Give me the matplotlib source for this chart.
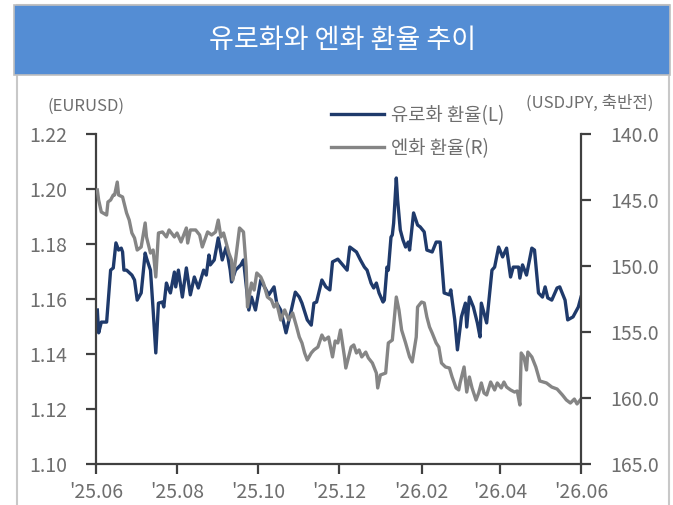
import matplotlib
matplotlib.use('Agg')
import matplotlib.pyplot as plt
from matplotlib.patches import Rectangle
from matplotlib.lines import Line2D
import pandas as pd

plt.rcParams['font.family'] = ['Noto Sans CJK KR', 'DejaVu Sans']

title = '유로화와 엔화 환율 추이'
eur_label = '유로화 환율(L)'
jpy_label = '엔화 환율(R)'
left_unit = '(EURUSD)'
right_unit = '(USDJPY, 축반전)'

eur_dates = [
    '2025-06-02', '2025-06-03', '2025-06-05', '2025-06-09', '2025-06-12', '2025-06-14', '2025-06-16',
    '2025-06-18', '2025-06-20', '2025-06-21', '2025-06-22', '2025-06-24', '2025-06-28', '2025-06-30',
    '2025-07-02', '2025-07-05', '2025-07-08', '2025-07-09', '2025-07-12', '2025-07-14', '2025-07-16',
    '2025-07-18', '2025-07-21', '2025-07-22', '2025-07-24', '2025-07-25', '2025-07-27', '2025-07-30',
    '2025-07-31', '2025-08-02', '2025-08-05', '2025-08-08', '2025-08-11', '2025-08-14', '2025-08-17',
    '2025-08-21', '2025-08-23', '2025-08-25', '2025-08-26', '2025-08-29', '2025-09-01', '2025-09-04',
    '2025-09-07', '2025-09-10', '2025-09-11', '2025-09-14', '2025-09-18', '2025-09-20', '2025-09-24',
    '2025-09-26', '2025-09-29', '2025-10-03', '2025-10-07', '2025-10-09', '2025-10-13', '2025-10-15',
    '2025-10-18', '2025-10-22', '2025-10-26', '2025-10-29', '2025-11-01', '2025-11-03', '2025-11-07',
    '2025-11-10', '2025-11-12', '2025-11-14', '2025-11-18', '2025-11-21', '2025-11-24', '2025-11-26',
    '2025-11-30', '2025-12-07', '2025-12-09', '2025-12-12', '2025-12-14', '2025-12-17', '2025-12-20',
    '2025-12-22', '2025-12-25', '2025-12-27', '2025-12-29', '2025-12-31', '2026-01-03', '2026-01-04',
    '2026-01-06', '2026-01-07', '2026-01-09', '2026-01-10', '2026-01-11', '2026-01-13', '2026-01-14',
    '2026-01-16', '2026-01-18', '2026-01-20', '2026-01-22', '2026-01-23', '2026-01-26', '2026-01-29',
    '2026-01-31', '2026-02-03', '2026-02-05', '2026-02-09', '2026-02-12', '2026-02-15', '2026-02-18',
    '2026-02-22', '2026-02-23', '2026-02-26', '2026-02-28', '2026-03-03', '2026-03-06', '2026-03-07',
    '2026-03-09', '2026-03-12', '2026-03-15', '2026-03-17', '2026-03-18', '2026-03-22', '2026-03-26',
    '2026-03-28', '2026-03-31', '2026-04-03', '2026-04-06', '2026-04-09', '2026-04-11', '2026-04-15',
    '2026-04-16', '2026-04-18', '2026-04-21', '2026-04-25', '2026-04-27', '2026-04-30', '2026-05-03',
    '2026-05-05', '2026-05-07', '2026-05-10', '2026-05-14', '2026-05-16', '2026-05-20', '2026-05-22',
    '2026-05-26', '2026-05-30', '2026-06-01',
]
eur_values = [
    1.1560, 1.1477, 1.1516, 1.1516, 1.1705, 1.1713, 1.1804,
    1.1778, 1.1785, 1.1771, 1.1705, 1.1705, 1.1687, 1.1669,
    1.1596, 1.1622, 1.1767, 1.1749, 1.1705, 1.1560, 1.1404,
    1.1585, 1.1589, 1.1571, 1.1658, 1.1644, 1.1622, 1.1698,
    1.1644, 1.1705, 1.1607, 1.1713, 1.1615, 1.1680, 1.1640,
    1.1705, 1.1687, 1.1760, 1.1724, 1.1742, 1.1822, 1.1742,
    1.1789, 1.1705, 1.1662, 1.1705, 1.1724, 1.1742, 1.1560,
    1.1607, 1.1560, 1.1669, 1.1633, 1.1615, 1.1644, 1.1585,
    1.1560, 1.1477, 1.1560, 1.1625, 1.1607, 1.1585, 1.1524,
    1.1505, 1.1585, 1.1589, 1.1669, 1.1644, 1.1633, 1.1735,
    1.1745, 1.1705, 1.1789, 1.1778, 1.1771, 1.1742, 1.1716,
    1.1705, 1.1658, 1.1640, 1.1658, 1.1622, 1.1589, 1.1596,
    1.1716, 1.1705, 1.1825, 1.1833, 1.1876, 1.2040, 1.1960,
    1.1851, 1.1815, 1.1789, 1.1807, 1.1778, 1.1913, 1.1869,
    1.1862, 1.1844, 1.1778, 1.1771, 1.1807, 1.1807, 1.1622,
    1.1615, 1.1633, 1.1524, 1.1415, 1.1535, 1.1585, 1.1498,
    1.1607, 1.1571, 1.1513, 1.1462, 1.1585, 1.1513, 1.1705,
    1.1716, 1.1789, 1.1753, 1.1785, 1.1680, 1.1716, 1.1716,
    1.1676, 1.1724, 1.1687, 1.1785, 1.1778, 1.1622, 1.1607,
    1.1644, 1.1604, 1.1596, 1.1640, 1.1644, 1.1596, 1.1524,
    1.1535, 1.1571, 1.1607,
]

jpy_dates = [
    '2025-06-02', '2025-06-03', '2025-06-05', '2025-06-09', '2025-06-10', '2025-06-12', '2025-06-14',
    '2025-06-15', '2025-06-17', '2025-06-18', '2025-06-21', '2025-06-24', '2025-06-26', '2025-06-28',
    '2025-06-30', '2025-07-02', '2025-07-05', '2025-07-08', '2025-07-09', '2025-07-12', '2025-07-14',
    '2025-07-16', '2025-07-18', '2025-07-21', '2025-07-24', '2025-07-26', '2025-07-30', '2025-08-01',
    '2025-08-04', '2025-08-08', '2025-08-09', '2025-08-11', '2025-08-15', '2025-08-18', '2025-08-20',
    '2025-08-24', '2025-08-27', '2025-08-30', '2025-09-01', '2025-09-03', '2025-09-05', '2025-09-09',
    '2025-09-11', '2025-09-12', '2025-09-14', '2025-09-17', '2025-09-20', '2025-09-22', '2025-09-23',
    '2025-09-26', '2025-09-28', '2025-09-30', '2025-10-03', '2025-10-05', '2025-10-08', '2025-10-11',
    '2025-10-13', '2025-10-15', '2025-10-18', '2025-10-21', '2025-10-24', '2025-10-27', '2025-10-30',
    '2025-11-01', '2025-11-03', '2025-11-05', '2025-11-07', '2025-11-10', '2025-11-12', '2025-11-15',
    '2025-11-18', '2025-11-20', '2025-11-23', '2025-11-26', '2025-11-28', '2025-11-30', '2025-12-02',
    '2025-12-05', '2025-12-06', '2025-12-10', '2025-12-12', '2025-12-14', '2025-12-16', '2025-12-18',
    '2025-12-21', '2025-12-23', '2025-12-26', '2025-12-29', '2025-12-30', '2026-01-01', '2026-01-05',
    '2026-01-07', '2026-01-10', '2026-01-13', '2026-01-15', '2026-01-17', '2026-01-20', '2026-01-23',
    '2026-01-25', '2026-01-28', '2026-01-29', '2026-02-01', '2026-02-03', '2026-02-05', '2026-02-07',
    '2026-02-09', '2026-02-12', '2026-02-14', '2026-02-16', '2026-02-19', '2026-02-22', '2026-02-24',
    '2026-02-27', '2026-03-01', '2026-03-02', '2026-03-05', '2026-03-07', '2026-03-09', '2026-03-11',
    '2026-03-14', '2026-03-16', '2026-03-18', '2026-03-20', '2026-03-22', '2026-03-25', '2026-03-28',
    '2026-03-30', '2026-04-02', '2026-04-04', '2026-04-06', '2026-04-09', '2026-04-12', '2026-04-14',
    '2026-04-16', '2026-04-17', '2026-04-19', '2026-04-21', '2026-04-22', '2026-04-25', '2026-04-28',
    '2026-05-01', '2026-05-06', '2026-05-10', '2026-05-14', '2026-05-18', '2026-05-21', '2026-05-24',
    '2026-05-27', '2026-05-29', '2026-06-01',
]
jpy_values = [
    144.24, 145.00, 145.91, 146.14, 145.15, 145.00, 144.62,
    144.62, 143.64, 144.62, 144.77, 145.98, 146.52, 147.50,
    147.88, 148.79, 148.56, 146.74, 147.80, 149.02, 148.79,
    150.83, 147.50, 147.42, 147.80, 147.27, 147.80, 147.50,
    148.18, 147.12, 148.26, 147.27, 147.27, 147.65, 148.56,
    147.42, 147.65, 147.42, 146.52, 147.80, 147.50, 149.02,
    149.55, 151.06, 149.55, 147.12, 147.42, 150.08, 153.11,
    151.29, 151.82, 150.53, 150.83, 151.29, 152.35, 152.58,
    153.11, 152.80, 154.09, 153.33, 154.09, 153.56, 154.62,
    155.38, 155.83, 156.59, 157.12, 156.59, 156.36, 156.14,
    155.23, 155.61, 155.38, 156.89, 155.68, 155.83, 154.85,
    156.89, 157.73, 156.14, 155.98, 156.59, 156.36, 156.89,
    156.52, 156.97, 157.35, 158.11, 159.24, 158.26, 158.11,
    155.83, 155.61, 152.35, 153.33, 154.85, 155.83, 156.89,
    157.27, 155.38, 153.11, 152.73, 152.80, 153.86, 154.62,
    155.08, 155.83, 156.14, 157.35, 157.65, 157.73, 158.41,
    159.24, 159.39, 158.86, 157.65, 159.55, 158.41, 159.24,
    160.15, 159.62, 158.86, 159.62, 159.77, 158.79, 159.39,
    158.86, 159.24, 158.79, 159.17, 159.39, 159.55, 159.47,
    160.53, 156.59, 156.89, 157.88, 156.52, 156.89, 157.65,
    158.71, 158.86, 159.17, 159.32, 159.77, 160.15, 160.38,
    160.08, 160.45, 160.08,
]

xtick_dates = ['2025-06-01', '2025-08-01', '2025-10-01', '2025-12-01',
               '2026-02-01', '2026-04-01', '2026-06-01']
xtick_labels = ["'25.06", "'25.08", "'25.10", "'25.12", "'26.02", "'26.04", "'26.06"]
eur_ticks = [1.10, 1.12, 1.14, 1.16, 1.18, 1.20, 1.22]
eur_tick_labels = ['1.10', '1.12', '1.14', '1.16', '1.18', '1.20', '1.22']
jpy_ticks = [140, 145, 150, 155, 160, 165]
jpy_tick_labels = ['140.0', '145.0', '150.0', '155.0', '160.0', '165.0']

NAVY = '#1F3A6B'
GRAY = '#858585'
AXC = '#404040'
TXT = '#6E6E6E'

W, H = 673, 505
fig = plt.figure(figsize=(W / 100, H / 100), dpi=100)

# outer frame and title bar (behind the axes)
fig.patches.append(Rectangle((17 / W, -0.02), (669 - 17) / W, (505 - 5) / H + 0.02,
                             transform=fig.transFigure, facecolor='white',
                             edgecolor='#C8C8C8', lw=1.5, zorder=-3))
fig.patches.append(Rectangle((14 / W, 1 - 75 / H), (670 - 14) / W, 70 / H,
                             transform=fig.transFigure, facecolor='#548DD4',
                             edgecolor='#BFBFBF', lw=1.2, zorder=-2))
fig.text(343 / W, 1 - 40 / H, title, color='white', fontsize=19.5,
         ha='center', va='center')

ax = fig.add_axes([96 / W, (H - 464) / H, (581 - 96) / W, (464 - 134) / H])
ax.patch.set_alpha(0)
ax.plot(pd.to_datetime(eur_dates), eur_values, color=NAVY, lw=2.4,
        solid_joinstyle='round', label=eur_label)
ax.set_ylim(1.10, 1.22)
ax.set_yticks(eur_ticks)
ax.set_yticklabels(eur_tick_labels)
ax.set_xlim(pd.Timestamp('2025-06-01'), pd.Timestamp('2026-06-01'))
ax.set_xticks(pd.to_datetime(xtick_dates))
ax.set_xticklabels(xtick_labels)

ax2 = ax.twinx()
ax2.patch.set_alpha(0)
ax2.plot(pd.to_datetime(jpy_dates), jpy_values, color=GRAY, lw=2.4,
         solid_joinstyle='round', label=jpy_label)
ax2.set_ylim(165, 140)
ax2.set_yticks(jpy_ticks)
ax2.set_yticklabels(jpy_tick_labels)
ax2.set_xlim(pd.Timestamp('2025-06-01'), pd.Timestamp('2026-06-01'))

for s in ['top', 'right']:
    ax.spines[s].set_visible(False)
for s in ['top', 'left', 'bottom']:
    ax2.spines[s].set_visible(False)
for sp in [ax.spines['left'], ax.spines['bottom'], ax2.spines['right']]:
    sp.set_color(AXC)
    sp.set_linewidth(1.6)

ax.tick_params(axis='y', direction='out', length=7, width=1.6, color=AXC,
               labelcolor=TXT, labelsize=14, pad=14)
ax.tick_params(axis='x', direction='out', length=7, width=1.6, color=AXC,
               labelcolor=TXT, labelsize=14, pad=6)
ax2.tick_params(axis='y', direction='out', length=7, width=1.6, color=AXC,
                labelcolor=TXT, labelsize=14, pad=14)

fig.text(86 / W, 1 - 106 / H, left_unit, color=TXT, fontsize=12,
         ha='center', va='center')
fig.text(590 / W, 1 - 103 / H, right_unit, color=TXT, fontsize=12,
         ha='center', va='center')

handles = [Line2D([], [], color=NAVY, lw=2.4), Line2D([], [], color=GRAY, lw=2.4)]
leg = fig.legend(handles, [eur_label, jpy_label], loc='upper left',
                 bbox_to_anchor=(331 / W, 1 - 105 / H), frameon=False,
                 fontsize=13.5, handlelength=2.8, handletextpad=0.4,
                 labelspacing=0.62, borderpad=0, borderaxespad=0,
                 labelcolor=TXT)

fig.savefig('out.png', dpi=100)
